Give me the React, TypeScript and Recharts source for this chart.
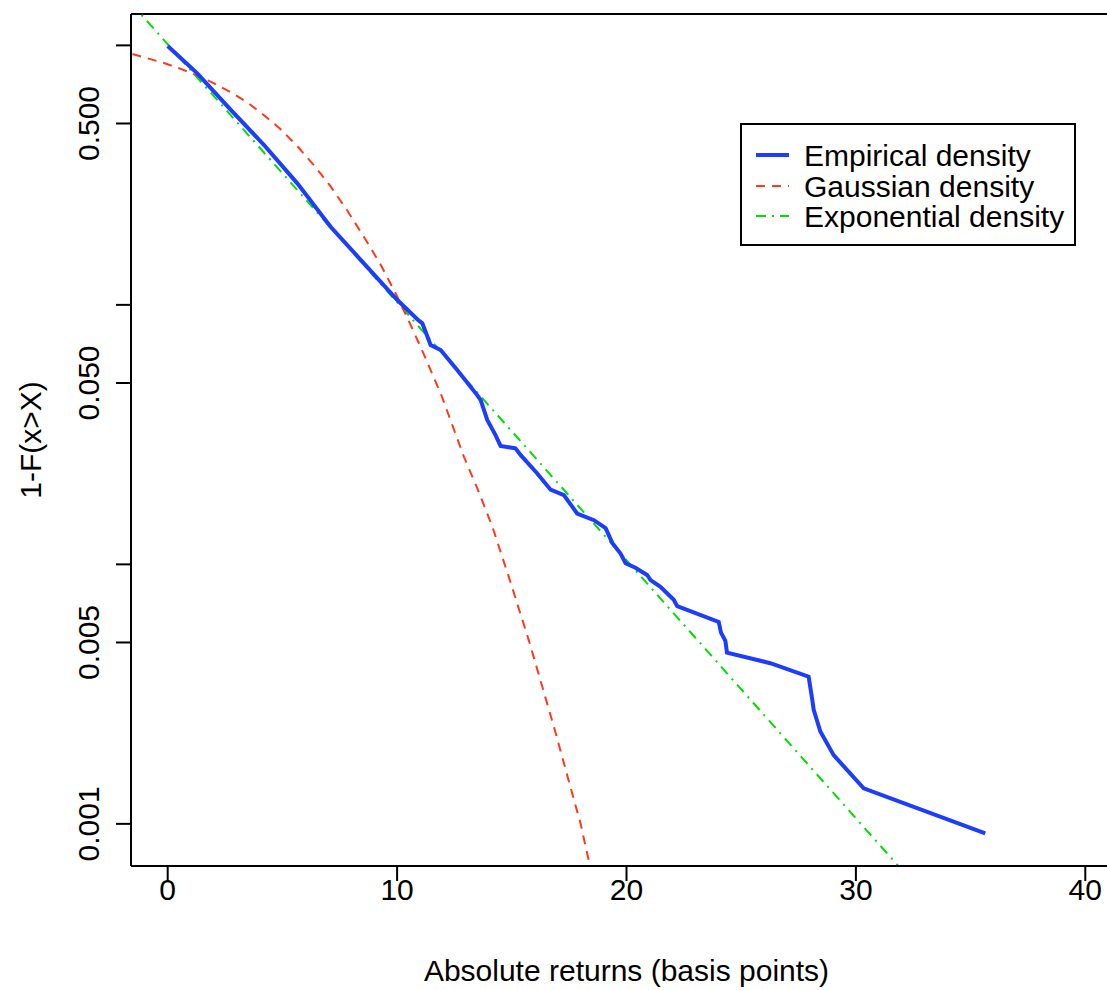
import { LineChart, Line, XAxis, YAxis, ReferenceLine, Legend, Label } from 'recharts';

const FONT = '"Liberation Sans", Arial, Helvetica, sans-serif';

// empirical tail 1-F(x>X)
const empX = [0.0, 1.29, 2.75, 4.2, 5.65, 7.1, 8.55, 10.01, 10.88, 11.1, 11.46, 11.9, 12.62, 13.49, 13.64, 13.93, 14.29, 14.51, 15.16, 15.38, 16.11, 16.69, 17.27, 17.85, 18.58, 19.09, 19.38, 19.74, 19.96, 20.39, 20.9, 21.05, 21.48, 22.06, 22.21, 24.02, 24.12, 24.31, 24.38, 26.27, 27.94, 28.1, 28.16, 28.45, 29.03, 30.34, 35.64];
const empY = [0.994, 0.78, 0.564, 0.413, 0.294, 0.2, 0.1446, 0.1044, 0.088, 0.0849, 0.07, 0.067, 0.0561, 0.0449, 0.043, 0.036, 0.0315, 0.0286, 0.028, 0.0264, 0.0224, 0.0194, 0.0185, 0.0157, 0.0148, 0.0138, 0.0121, 0.011, 0.0101, 0.0097, 0.0091, 0.0087, 0.0082, 0.0073, 0.0069, 0.006, 0.00546, 0.00507, 0.00457, 0.00416, 0.00369, 0.003, 0.00275, 0.00227, 0.00184, 0.00137, 0.00092];

const gaussX = [-1.54, -0.16, 0.6, 1.29, 2.0, 2.75, 3.5, 4.2, 4.9, 5.65, 6.4, 7.1, 7.8, 8.55, 9.3, 10.01, 10.5, 11.02, 11.9, 12.91, 13.5, 14.15, 14.95, 15.77, 16.9, 17.45, 18.0, 18.52];
const gaussY = [0.926, 0.855, 0.81, 0.765, 0.715, 0.66, 0.6, 0.538, 0.477, 0.409, 0.343, 0.286, 0.233, 0.183, 0.142, 0.1075, 0.087, 0.069, 0.0456, 0.026, 0.0196, 0.014, 0.0085, 0.005, 0.00226, 0.0015, 0.001, 0.00062];

const expoX = [-1.6, 32.5];
const expoY = [1.456, 0.000593];

const xTicks = [0, 10, 20, 30, 40];
const yTicks = [0.001, 0.005, 0.01, 0.05, 0.1, 0.5, 1];
const yTickLabels = ['0.001', '0.005', '', '0.050', '', '0.500', ''];

const X_DOMAIN: [number, number] = [-1.6, 41.6];
const Y_DOMAIN: [number, number] = [0.000688, 1.321];

const series = [
    { name: 'Empirical density', color: '#1c3cff', width: 4, dash: undefined as string | undefined },
    { name: 'Gaussian density', color: '#ff3a1a', width: 2, dash: '9 7' },
    { name: 'Exponential density', color: '#00e000', width: 2, dash: '10 6 2 6' },
];

const toPoints = (xs: number[], ys: number[]) => xs.map((x, i) => ({ x, y: ys[i] }));

const XTick = ({ x, y, payload }: any) => (
    <text x={x} y={y} textAnchor="middle" fontSize={30} fontFamily={FONT} fill="#000">
        {payload.value}
    </text>
);

const YTick = ({ x, y, payload }: any) => {
    const label = yTickLabels[yTicks.indexOf(payload.value)];
    if (!label) return <g />;
    return (
        <text x={x} y={y} transform={`rotate(-90 ${x} ${y})`} textAnchor="middle" fontSize={30} fontFamily={FONT} fill="#000">
            {label}
        </text>
    );
};

const LegendBox = () => (
    <div
        style={{
            width: 336,
            height: 123,
            boxSizing: 'border-box',
            border: '2px solid #000',
            background: '#fff',
            fontFamily: FONT,
            fontSize: 30,
            paddingTop: 16,
        }}
    >
        {series.map(s => (
            <div key={s.name} style={{ display: 'flex', alignItems: 'center', height: 30.5, lineHeight: '30.5px' }}>
                <svg width={62} height={30} style={{ flex: 'none' }}>
                    <line x1={14} x2={47} y1={14} y2={14} stroke={s.color} strokeWidth={s.width} strokeDasharray={s.dash} />
                </svg>
                <span>{s.name}</span>
            </div>
        ))}
    </div>
);

export default function App() {
    const empirical = toPoints(empX, empY);
    const gauss = toPoints(gaussX, gaussY);
    const expo = toPoints(expoX, expoY);

    return (
        <div style={{ position: 'absolute', left: 0, top: 0, width: 1107, height: 990, overflow: 'hidden', background: '#fff' }}>
            <LineChart width={1140} height={990} margin={{ top: 14, right: 18, left: 31, bottom: 24 }}>
                <XAxis
                    dataKey="x"
                    type="number"
                    domain={X_DOMAIN}
                    allowDataOverflow
                    ticks={xTicks}
                    height={100}
                    stroke="#000"
                    strokeWidth={2}
                    tickSize={15}
                    tickMargin={19}
                    tick={<XTick />}
                >
                    <Label
                        content={({ viewBox }: any) => (
                            <text
                                x={viewBox.x + viewBox.width / 2}
                                y={viewBox.y + 115}
                                textAnchor="middle"
                                fontSize={30}
                                fontFamily={FONT}
                                fill="#000"
                            >
                                Absolute returns (basis points)
                            </text>
                        )}
                    />
                </XAxis>
                <YAxis
                    dataKey="y"
                    type="number"
                    scale="log"
                    domain={Y_DOMAIN}
                    allowDataOverflow
                    ticks={yTicks}
                    width={100}
                    stroke="#000"
                    strokeWidth={2}
                    tickSize={15}
                    tickMargin={17}
                    tick={<YTick />}
                >
                    <Label
                        content={({ viewBox }: any) => {
                            const lx = viewBox.x + 10;
                            const ly = viewBox.y + viewBox.height / 2;
                            return (
                                <text
                                    x={lx}
                                    y={ly}
                                    transform={`rotate(-90 ${lx} ${ly})`}
                                    textAnchor="middle"
                                    fontSize={30}
                                    fontFamily={FONT}
                                    fill="#000"
                                >
                                    1-F(x&gt;X)
                                </text>
                            );
                        }}
                    />
                </YAxis>
                <ReferenceLine y={Y_DOMAIN[1]} stroke="#000" strokeWidth={2} />
                <Legend
                    layout="vertical"
                    align="center"
                    verticalAlign="middle"
                    content={<LegendBox />}
                    wrapperStyle={{ left: 740, top: 123, width: 336, height: 123 }}
                />
                <Line
                    data={expo}
                    dataKey="y"
                    name={series[2].name}
                    type="linear"
                    stroke={series[2].color}
                    strokeWidth={series[2].width}
                    strokeDasharray={series[2].dash}
                    dot={false}
                    isAnimationActive={false}
                />
                <Line
                    data={gauss}
                    dataKey="y"
                    name={series[1].name}
                    type="linear"
                    stroke={series[1].color}
                    strokeWidth={series[1].width}
                    strokeDasharray={series[1].dash}
                    dot={false}
                    isAnimationActive={false}
                />
                <Line
                    data={empirical}
                    dataKey="y"
                    name={series[0].name}
                    type="linear"
                    stroke={series[0].color}
                    strokeWidth={series[0].width}
                    dot={false}
                    isAnimationActive={false}
                />
            </LineChart>
        </div>
    );
}
